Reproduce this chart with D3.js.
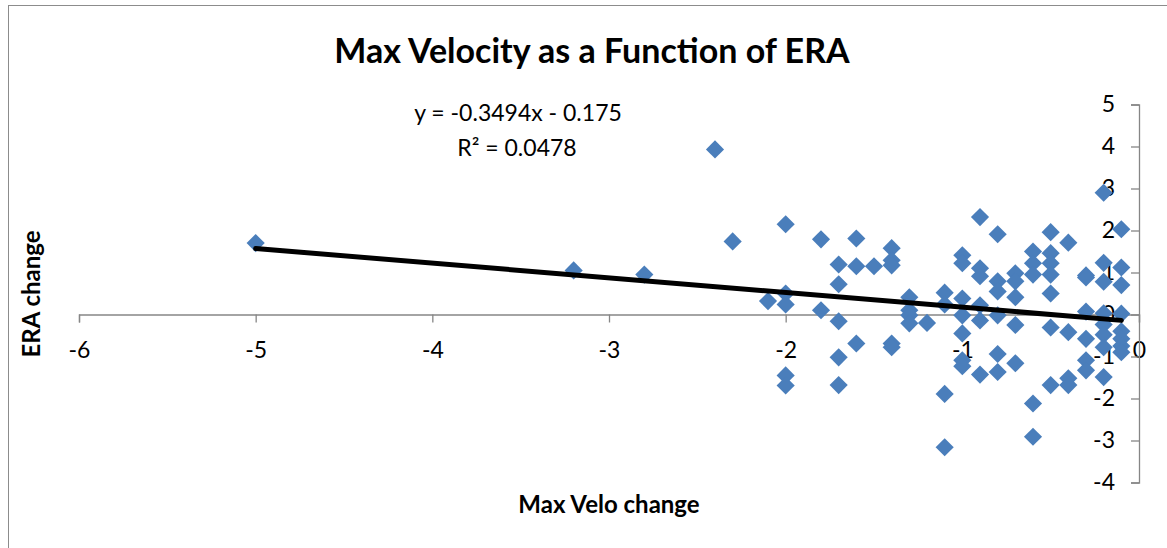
<!DOCTYPE html>
<html>
<head>
<meta charset="utf-8">
<script src="https://cdn.jsdelivr.net/npm/d3@7"></script>
<style>
  body { margin: 0; background: #fff; }
  svg { display: block; font-family: Lato, "Open Sans", sans-serif; }
</style>
</head>
<body>
<svg width="1167" height="548"></svg>
<script>
// data: one x (velocity change) with its ERA changes
const veloSteps = [-5, -3.2, -2.8, -2.4, -2.3, -2.1, -2.0, -1.8, -1.7, -1.6, -1.5, -1.4, -1.3, -1.2,
  -1.1, -1.0, -0.9, -0.8, -0.7, -0.6, -0.5, -0.4, -0.3, -0.2, -0.1];
const eraChanges = [
  [1.70],
  [1.05],
  [0.95],
  [3.93],
  [1.74],
  [0.32],
  [2.15, 0.50, 0.24, -1.45, -1.69],
  [1.79, 0.10],
  [1.19, 0.72, -0.16, -1.02, -1.68],
  [1.81, 1.15, -0.69],
  [1.15],
  [1.58, 1.29, 1.17, -0.69, -0.78],
  [0.41, 0.10, -0.02, -0.21],
  [-0.20],
  [0.52, 0.24, -1.89, -3.16],
  [1.41, 1.22, 0.38, -0.02, -0.45, -1.09, -1.23],
  [2.32, 1.10, 0.91, 0.22, -0.14, -1.43],
  [1.91, 0.79, 0.55, -0.02, -0.94, -1.37],
  [0.98, 0.79, 0.41, -0.25, -1.16],
  [1.50, 1.22, 0.95, -2.12, -2.91],
  [1.96, 1.46, 1.22, 0.95, 0.50, -0.31, -1.68],
  [1.71, -0.42, -1.52, -1.68],
  [0.93, 0.88, 0.07, -0.58, -1.09, -1.33],
  [2.90, 1.23, 0.78, 0.03, -0.24, -0.48, -0.78, -1.49],
  [2.03, 1.12, 0.70, 0.02, -0.40, -0.58, -0.75, -0.90]
];
const xTicks = [-6, -5, -4, -3, -2, -1, 0];
const yTicks = [-4, -3, -2, -1, 0, 1, 2, 3, 4, 5];
const trendSlope = -0.3494;
const trendIntercept = -0.175;

const points = veloSteps.flatMap((v, i) => eraChanges[i].map(e => ({ x: v, y: e })));

const svg = d3.select("svg");

// chart border
svg.append("rect")
  .attr("x", 8.5).attr("y", 5.5)
  .attr("width", 1200).attr("height", 600)
  .attr("fill", "none").attr("stroke", "#8c8c8c");

const x = d3.scaleLinear().domain([-6, 0]).range([79, 1139]);
const y = d3.scaleLinear().domain([-4, 5]).range([482.5, 104.5]);

// plain hyphen minus like the original
const fmt = d => String(d);

// x axis sits on y = 0
const xAxis = svg.append("g")
  .attr("transform", `translate(0,${y(0)})`)
  .call(d3.axisBottom(x).tickValues(xTicks).tickSize(8).tickPadding(19).tickFormat(fmt));

// y axis sits on x = 0, labels on the left side
const yAxis = svg.append("g")
  .attr("transform", `translate(${x(0)},0)`)
  .call(d3.axisLeft(y).tickValues(yTicks).tickSize(8).tickPadding(16).tickFormat(fmt));

[xAxis, yAxis].forEach(g => {
  g.select(".domain").attr("stroke", "#868686").attr("stroke-width", 1.3);
  g.selectAll(".tick line").attr("stroke", "#868686").attr("stroke-width", 1.3);
  g.selectAll(".tick text").attr("fill", "#000").attr("font-size", 23)
    .attr("font-family", "Lato, sans-serif");
});
xAxis.selectAll(".tick text").attr("dy", "0.71em");

// markers
const diamond = d3.symbol().type(d3.symbolDiamond2).size(210);
svg.append("g").selectAll("path")
  .data(points)
  .enter().append("path")
  .attr("d", diamond)
  .attr("transform", d => `translate(${x(d.x)},${y(d.y)})`)
  .attr("fill", "#4a7ebb");

// linear trendline
const tx = d3.extent(veloSteps);
svg.append("line")
  .attr("x1", x(tx[0])).attr("y1", y(trendSlope * tx[0] + trendIntercept))
  .attr("x2", x(tx[1])).attr("y2", y(trendSlope * tx[1] + trendIntercept))
  .attr("stroke", "#000").attr("stroke-width", 5).attr("stroke-linecap", "round");

// texts
svg.append("text")
  .attr("x", 592).attr("y", 63)
  .attr("text-anchor", "middle").attr("font-weight", "bold").attr("font-size", 34)
  .text("Max Velocity as a Function of ERA");

svg.append("text")
  .attr("x", 518).attr("y", 121)
  .attr("text-anchor", "middle").attr("font-size", 23)
  .text("y = -0.3494x - 0.175");

svg.append("text")
  .attr("x", 517).attr("y", 156)
  .attr("text-anchor", "middle").attr("font-size", 23)
  .text("R² = 0.0478");

svg.append("text")
  .attr("x", 609).attr("y", 513)
  .attr("text-anchor", "middle").attr("font-weight", "bold").attr("font-size", 24)
  .text("Max Velo change");

svg.append("text")
  .attr("transform", "translate(40,294) rotate(-90)")
  .attr("text-anchor", "middle").attr("font-weight", "bold").attr("font-size", 24)
  .text("ERA change");
</script>
</body>
</html>
